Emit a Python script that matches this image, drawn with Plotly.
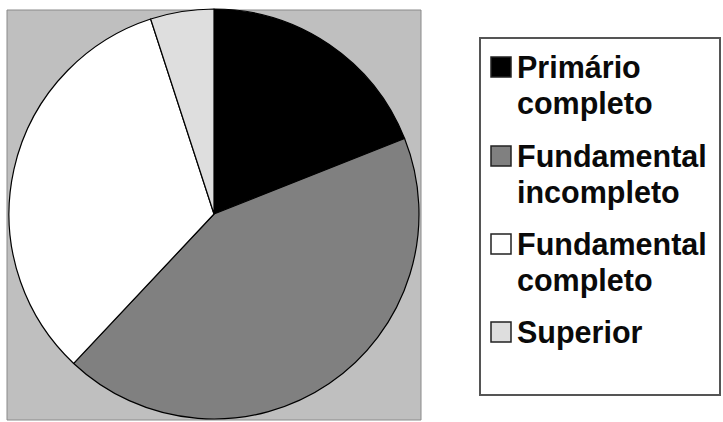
import plotly.graph_objects as go

# Escolaridade: share of each schooling level (%)
labels = ["Primário completo", "Fundamental incompleto", "Fundamental completo", "Superior"]
legend_lines = [["Primário", "completo"], ["Fundamental", "incompleto"],
                ["Fundamental", "completo"], ["Superior"]]
values = [19, 43, 33, 5]
colors = ["#000000", "#808080", "#ffffff", "#dedede"]

W, H = 723, 422


def px_x(x):
    return x / W


def px_y(y):
    return 1 - y / H


fig = go.Figure()

fig.add_trace(go.Pie(
    labels=labels,
    values=values,
    sort=False,
    direction="clockwise",
    rotation=0,
    marker=dict(colors=colors, line=dict(color="#000000", width=1.2)),
    textinfo="none",
    hoverinfo="label+percent",
    showlegend=False,
    domain=dict(x=[px_x(9), px_x(419)], y=[px_y(419), px_y(9)]),
))

shapes = []
# grey plot panel behind the pie
shapes.append(dict(type="rect", xref="paper", yref="paper", layer="below",
                   x0=px_x(7), x1=px_x(421), y0=px_y(420), y1=px_y(10),
                   fillcolor="#bfbfbf", line=dict(color="#8a8a8a", width=1)))
# legend frame
shapes.append(dict(type="rect", xref="paper", yref="paper", layer="below",
                   x0=px_x(480), x1=px_x(720), y0=px_y(395), y1=px_y(38),
                   fillcolor="#ffffff", line=dict(color="#555555", width=2)))

FONT_SIZE = 30.5
CAP_OFFSET = 9.2      # distance from annotation box top to capital top
LINE_PITCH = 36

annotations = []
item_tops = [57, 146, 234, 322]
for top, lines, col in zip(item_tops, legend_lines, colors):
    shapes.append(dict(type="rect", xref="paper", yref="paper",
                       x0=px_x(491), x1=px_x(511), y0=px_y(top + 20), y1=px_y(top),
                       fillcolor=col, line=dict(color="#222222", width=1.5)))
    for i, line in enumerate(lines):
        annotations.append(dict(xref="paper", yref="paper", x=px_x(515),
                                y=px_y(top + i * LINE_PITCH - CAP_OFFSET),
                                xanchor="left", yanchor="top", align="left",
                                text=line, showarrow=False,
                                font=dict(family="Liberation Sans", size=FONT_SIZE,
                                          color="#0a0a0a", weight="bold")))

fig.update_layout(
    width=W, height=H,
    margin=dict(l=0, r=0, t=0, b=0),
    paper_bgcolor="#ffffff",
    plot_bgcolor="#ffffff",
    shapes=shapes,
    annotations=annotations,
)

fig.write_html("out.html")
